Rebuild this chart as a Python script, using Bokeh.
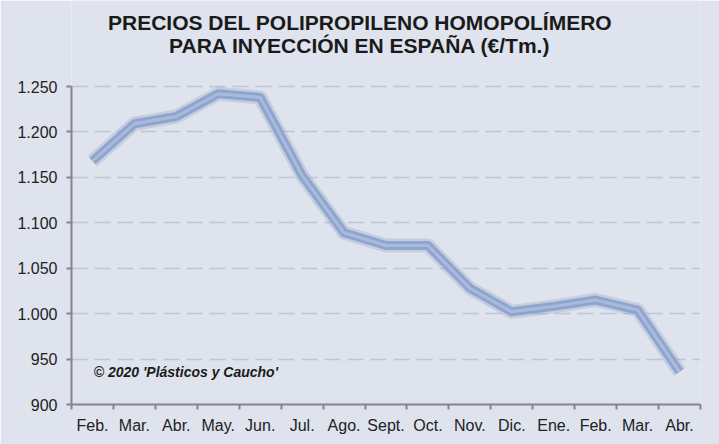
from bokeh.plotting import figure
from bokeh.models import Range1d, FixedTicker, Label, ColumnDataSource
from bokeh.embed import file_html
from bokeh.resources import INLINE

months = ["Feb.", "Mar.", "Abr.", "May.", "Jun.", "Jul.", "Ago.", "Sept.",
          "Oct.", "Nov.", "Dic.", "Ene.", "Feb.", "Mar.", "Abr."]
prices = [1168, 1209, 1217, 1242, 1238, 1152, 1089, 1075,
          1075, 1028, 1002, 1008, 1015, 1004, 936]
y_ticks = [900, 950, 1000, 1050, 1100, 1150, 1200, 1250]
y_tick_labels = ["900", "950", "1.000", "1.050", "1.100", "1.150", "1.200", "1.250"]
title_lines = ["PRECIOS DEL POLIPROPILENO HOMOPOLÍMERO",
               "PARA INYECCIÓN EN ESPAÑA (€/Tm.)"]
credit = "© 2020 'Plásticos y Caucho'"

BG = "#DEE3ED"
W, H = 719, 444
LEFT, RIGHT, BOTTOM = 71, 19, 40
PLOT_TOP = 86          # pixel row of the top of the value axis
frame_h = H - BOTTOM
axis_h = frame_h - PLOT_TOP
y_lo, y_hi = y_ticks[0], y_ticks[-1]
y_end = y_hi + (y_hi - y_lo) * PLOT_TOP / axis_h   # room above the axis for the title

idx = list(range(len(months)))
src = ColumnDataSource(dict(x=idx, y=prices))

p = figure(width=W, height=H, output_backend="svg", toolbar_location=None,
           x_range=Range1d(-0.5, len(months) - 0.5), y_range=Range1d(y_lo, y_end),
           min_border_left=LEFT, min_border_right=RIGHT, min_border_top=0, min_border_bottom=BOTTOM)
p.background_fill_color = BG
p.border_fill_color = BG
p.outline_line_color = None

# grid
p.xgrid.grid_line_color = None
p.ygrid.ticker = FixedTicker(ticks=y_ticks)
p.ygrid.grid_line_color = "#BAC6DC"
p.ygrid.grid_line_width = 1.5
p.ygrid.grid_line_dash = "16 7"

# y axis
p.yaxis.ticker = FixedTicker(ticks=y_ticks)
p.yaxis.bounds = (y_lo, y_hi)
p.yaxis.major_label_overrides = {t: l for t, l in zip(y_ticks, y_tick_labels)}
p.yaxis.minor_tick_line_color = None
p.yaxis.major_tick_in = 0
p.yaxis.major_tick_out = 5
p.yaxis.axis_line_color = "#868686"
p.yaxis.axis_line_width = 2
p.yaxis.major_tick_line_color = "#868686"
p.yaxis.major_tick_line_width = 2
p.yaxis.major_label_text_font = "Liberation Sans"
p.yaxis.major_label_text_font_size = "16px"
p.yaxis.major_label_text_color = "#222222"
p.yaxis.major_label_standoff = 9

# x axis
p.xaxis.ticker = FixedTicker(ticks=idx, minor_ticks=[i - 0.5 for i in range(len(months) + 1)])
p.xaxis.major_label_overrides = {i: m for i, m in zip(idx, months)}
p.xaxis.major_tick_in = 0
p.xaxis.major_tick_out = 0
p.xaxis.minor_tick_in = 0
p.xaxis.minor_tick_out = 5
p.xaxis.minor_tick_line_color = "#868686"
p.xaxis.minor_tick_line_width = 2
p.xaxis.axis_line_color = "#868686"
p.xaxis.axis_line_width = 2
p.xaxis.major_label_text_font = "Liberation Sans"
p.xaxis.major_label_text_font_size = "16px"
p.xaxis.major_label_text_color = "#222222"
p.xaxis.major_label_standoff = 7

# line with soft shadow and highlight
p.line("x", "y", source=src, line_width=14, line_color="#7D8FB5", line_alpha=0.25, line_join="round")
p.line("x", "y", source=src, line_width=9, line_color="#90A5CE", line_join="round")
p.line("x", "y", source=src, line_width=3, line_color="#AFC0E0", line_alpha=0.8, line_join="round")

# title lines (screen units measured from the frame's bottom-left corner)
title_cx = W / 2 - LEFT
for text, row in zip(title_lines, [22, 45]):
    p.add_layout(Label(x=title_cx, y=frame_h - row, x_units="screen", y_units="screen", text=text,
                       text_align="center", text_baseline="middle", text_font="Liberation Sans",
                       text_font_style="bold", text_font_size="21px", text_color="#1a1a1a"))

# credit
p.add_layout(Label(x=0.03, y=936, text=credit, text_align="left", text_baseline="middle",
                   text_font="Liberation Sans", text_font_style="bold italic",
                   text_font_size="14px", text_color="#1a1a1a"))

html = file_html(p, INLINE)
html = html.replace("<body>", '<body style="background:%s;">' % BG, 1)
open("out.html", "w").write(html)
